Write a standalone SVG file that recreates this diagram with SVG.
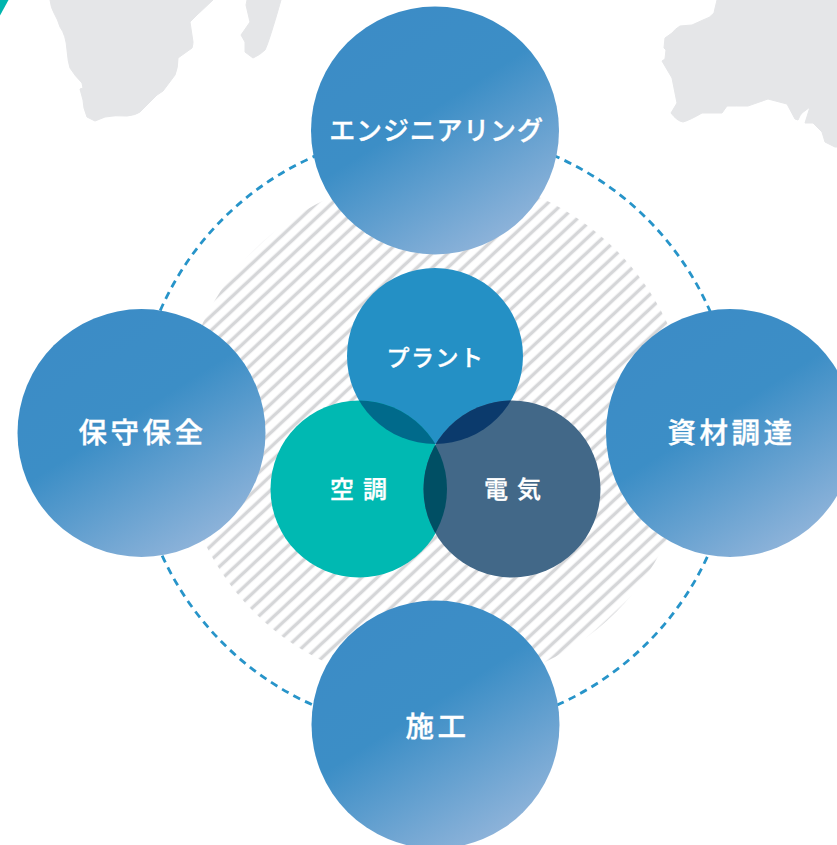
<svg xmlns="http://www.w3.org/2000/svg" width="837" height="845" viewBox="0 0 837 845">
<style>
.map{fill:#e5e6e8;stroke:#e5e6e8;stroke-width:1;stroke-linejoin:round}
.big{fill:url(#g)}
.t{font-family:"Noto Sans CJK JP","Noto Sans",sans-serif;font-weight:500;fill:#fff;stroke:#fff;stroke-width:0.350;text-anchor:middle}
</style>
<defs>
<linearGradient id="g" x1="0.2" y1="0.08" x2="0.76" y2="0.96">
<stop offset="0" stop-color="#3c8cc6"/><stop offset="0.42" stop-color="#3c8ec6"/><stop offset="1" stop-color="#90b4da"/>
</linearGradient>
<pattern id="h" width="10.5" height="10.5" patternUnits="userSpaceOnUse" patternTransform="rotate(-43 435 431)">
<rect width="10.5" height="10.5" fill="#fff"/><rect y="3.5" width="10.5" height="3.4" fill="#d5d6d8"/>
</pattern>
<clipPath id="cT"><circle cx="435" cy="356" r="88"/></clipPath>
<clipPath id="cL"><circle cx="359" cy="489" r="88"/></clipPath>
<clipPath id="cR"><circle cx="512" cy="489" r="88"/></clipPath>
</defs>
<rect width="837" height="845" fill="#fff"/>
<polygon points="0,0 8.500,0 0,15.500" fill="#00b5ae"/>
<path class="map" d="M50,0 Q51,8 54,13 Q58,20 60,27 Q66,35 67,50 Q68,62 70,68 Q75,76 82,83 L83,88 80,89 L83,100 84,108 87,117 95,121 105,117 Q115,115 127,116 Q136,115 140,112 L157,95 163,91 175,75 Q178,68 178,58 L192,48 Q193,44 193,42 L190,22 197,15 213,0Z"/>
<path class="map" d="M247,0 L246,5 250,22 241,35 245,42 245,52 253,58 Q260,55 265,50 Q269,42 281,0Z"/>
<path class="map" d="M717,0 Q715,8 714,13 Q710,18 703,20 L692,25 680,26 Q675,29 672,33 L665,38 664,48 666,50 665,59 662,61 672,78 677,103 671,113 Q677,121 683,122 Q690,120 702,113 L715,113 722,113 727,106 Q735,106 748,106 L768,99 787,104 795,119 798,120 Q800,115 802,113 L810,107 805,123 813,123 822,132 825,142 835,147 837,147 837,0Z"/>
<circle cx="435" cy="431" r="256" fill="url(#h)"/>
<g id="connectors"><circle cx="435" cy="431" r="300" fill="none" stroke="#2794c9" stroke-width="2.800" stroke-dasharray="7.500 5.500"/></g>
<g id="node-engineering"><circle class="big" cx="435" cy="130.500" r="124"/><text class="t" x="436.500" y="140" font-size="26" letter-spacing="0.800">エンジニアリング</text></g>
<g id="node-hoshu"><circle class="big" cx="141.500" cy="433" r="124"/><text class="t" x="142.500" y="443" font-size="28.500" letter-spacing="3.500">保守保全</text></g>
<g id="node-shizai"><circle class="big" cx="730" cy="433" r="124"/><text class="t" x="731.500" y="443" font-size="28.500" letter-spacing="3.500">資材調達</text></g>
<g id="node-seko"><circle class="big" cx="435.500" cy="724.500" r="124"/><text class="t" x="437.500" y="737" font-size="28.500" letter-spacing="3.500">施工</text></g>
<g id="node-plant"><circle cx="435" cy="356" r="88" fill="#2490c5"/><text class="t" x="435.500" y="366" font-size="23" letter-spacing="1.500">プラント</text></g>
<g id="node-kucho"><circle cx="359" cy="489" r="88.500" fill="#00b9b2"/><text class="t" x="363" y="498" font-size="24" letter-spacing="9">空調</text></g>
<g id="node-denki"><circle cx="512" cy="489" r="88.500" fill="#426888"/><text class="t" x="517" y="498" font-size="24" letter-spacing="9">電気</text></g>
<g id="overlaps">
<g clip-path="url(#cT)"><circle cx="359" cy="489" r="88.500" fill="#006a8b"/><circle cx="512" cy="489" r="88.500" fill="#0b3a6c"/></g>
<g clip-path="url(#cL)"><circle cx="512" cy="489" r="88.500" fill="#004f64"/></g>
</g>
</svg>
